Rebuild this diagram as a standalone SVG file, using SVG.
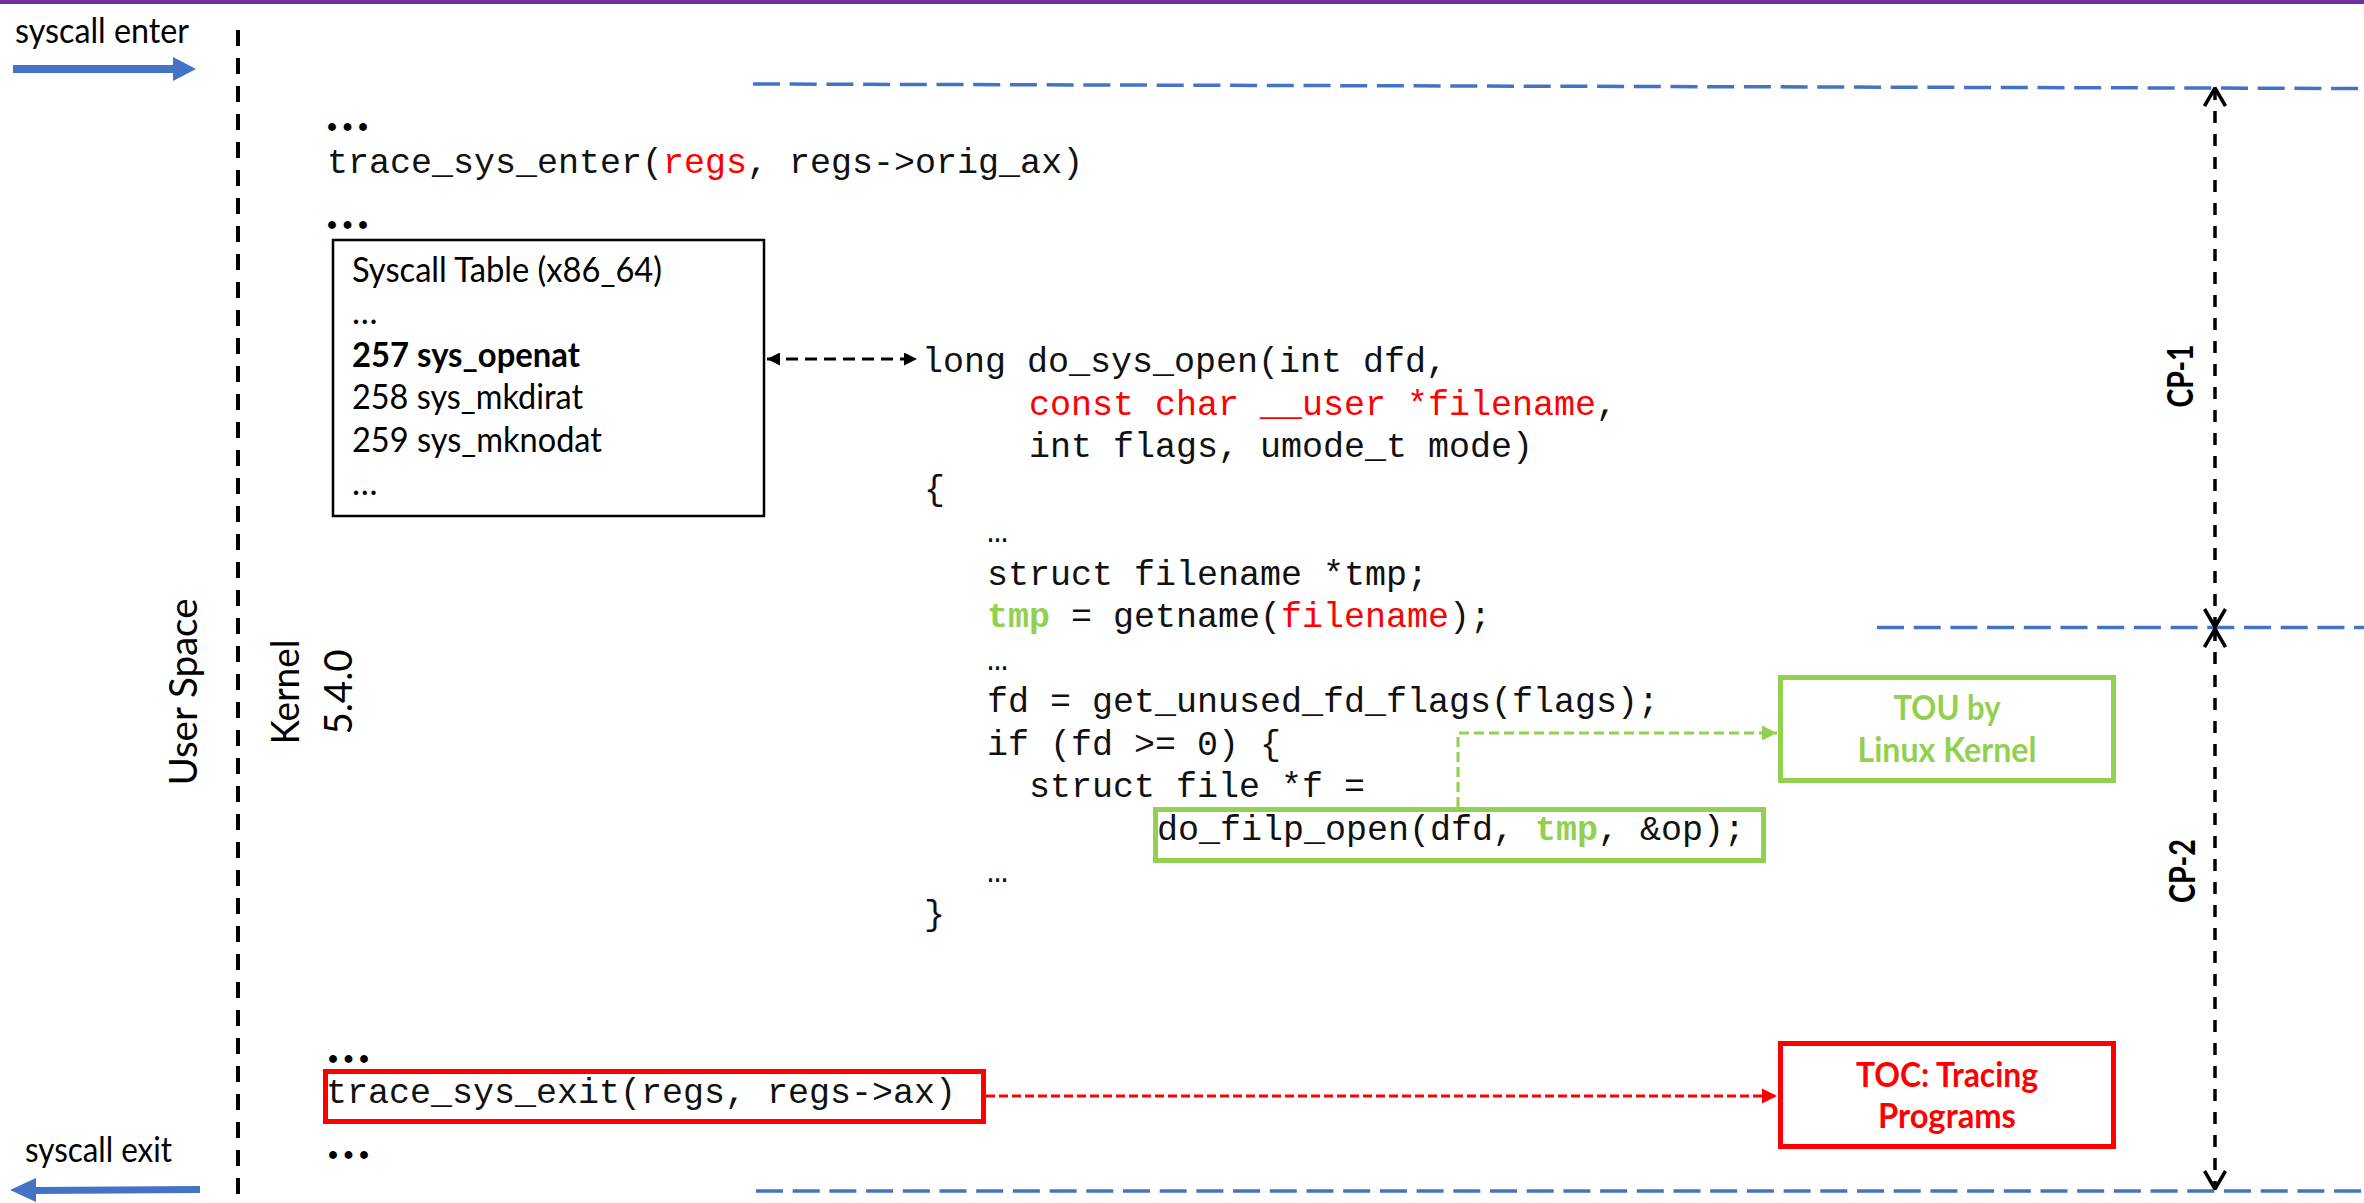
<svg xmlns="http://www.w3.org/2000/svg" width="2364" height="1203" viewBox="0 0 2364 1203">
  <style>
    .sans { font-family: Lato, "Open Sans", "Liberation Sans", sans-serif; fill: #000; }
    .bold { font-weight: bold; }
    .mono { font-family: "Liberation Mono", "Courier New", monospace; font-size: 35px; fill: #111; }
    .red { fill: #FF0000; }
    .grn { fill: #92D050; font-weight: bold; }
    .dots { font-family: "Liberation Serif", serif; font-weight: bold; font-size: 48px; letter-spacing: 3.5px; fill: #000; }
    .boundary { stroke: #4472C4; stroke-width: 3.5; stroke-dasharray: 27 9.7; fill: none; }
    .divider { stroke: #000; stroke-width: 4; stroke-dasharray: 16 12; fill: none; }
    .span { stroke: #000; stroke-width: 3.5; stroke-dasharray: 12 11; fill: none; }
  </style>
  <defs>
    <marker id="tri-black" viewBox="0 0 10 10" refX="10" refY="5" markerWidth="13" markerHeight="13" markerUnits="userSpaceOnUse" orient="auto-start-reverse">
      <path d="M0,0 L10,5 L0,10 z" fill="#000"/>
    </marker>
    <marker id="tri-green" viewBox="0 0 10 10" refX="10" refY="5" markerWidth="15" markerHeight="16" markerUnits="userSpaceOnUse" orient="auto">
      <path d="M0,0 L10,5 L0,10 z" fill="#92D050"/>
    </marker>
    <marker id="tri-red" viewBox="0 0 10 10" refX="10" refY="5" markerWidth="15" markerHeight="16" markerUnits="userSpaceOnUse" orient="auto">
      <path d="M0,0 L10,5 L0,10 z" fill="#FF0000"/>
    </marker>
    <marker id="vee" viewBox="0 0 20 24" refX="19" refY="12" markerWidth="20" markerHeight="24" markerUnits="userSpaceOnUse" orient="auto-start-reverse">
      <path d="M1,1.5 L19,12 L1,22.5" fill="none" stroke="#000" stroke-width="3.5"/>
    </marker>
  </defs>

  <rect width="2364" height="1203" fill="#fff"/>
  <!-- title bar accent -->
  <rect x="0" y="0" width="2364" height="4" fill="#7030A0"/>

  <!-- user / kernel boundary -->
  <g id="boundary">
    <line class="divider" x1="238" y1="30" x2="238" y2="1203"/>
    <text class="sans" font-size="39" text-anchor="middle" textLength="187" lengthAdjust="spacingAndGlyphs" transform="translate(197,692) rotate(-90)">User Space</text>
    <text class="sans" font-size="38" text-anchor="middle" textLength="105" lengthAdjust="spacingAndGlyphs" transform="translate(299,692) rotate(-90)">Kernel</text>
    <text class="sans" font-size="38" text-anchor="middle" textLength="85" lengthAdjust="spacingAndGlyphs" transform="translate(352,692) rotate(-90)">5.4.0</text>
  </g>

  <!-- syscall enter / exit -->
  <g id="syscall-enter">
    <text class="sans" x="15" y="43" font-size="34" textLength="174" lengthAdjust="spacingAndGlyphs">syscall enter</text>
    <polygon points="13,65 173,65 173,57 196,69 173,81 173,73 13,73" fill="#4472C4"/>
  </g>
  <g id="syscall-exit">
    <text class="sans" x="25" y="1162" font-size="34" textLength="147" lengthAdjust="spacingAndGlyphs">syscall exit</text>
    <polygon points="200,1186 36,1187 36,1178 10,1190 36,1202 36,1194 200,1193" fill="#4472C4"/>
  </g>

  <!-- checkpoint boundaries -->
  <g id="checkpoints">
    <line class="boundary" x1="753" y1="84" x2="2364" y2="88.5"/>
    <line class="boundary" x1="1877" y1="627.5" x2="2364" y2="627.5"/>
    <line class="boundary" x1="756" y1="1191" x2="2364" y2="1191"/>
  </g>

  <!-- syscall entry code -->
  <g id="entry-code">
    <text class="dots" x="326" y="131">...</text>
    <text class="mono" x="327" y="173">trace_sys_enter(<tspan class="red">regs</tspan>, regs-&gt;orig_ax)</text>
    <text class="dots" x="326" y="229">...</text>
  </g>

  <!-- syscall table -->
  <g id="syscall-table">
    <rect x="333" y="240" width="431" height="276" fill="#fff" stroke="#000" stroke-width="2.5"/>
    <text class="sans" x="352" y="282" font-size="34" textLength="310" lengthAdjust="spacingAndGlyphs">Syscall Table (x86_64)</text>
    <text class="sans" x="352" y="324" font-size="34">…</text>
    <text class="sans bold" x="352" y="367" font-size="34" textLength="228" lengthAdjust="spacingAndGlyphs">257 sys_openat</text>
    <text class="sans" x="352" y="409" font-size="34" textLength="231" lengthAdjust="spacingAndGlyphs">258 sys_mkdirat</text>
    <text class="sans" x="352" y="452" font-size="34" textLength="250" lengthAdjust="spacingAndGlyphs">259 sys_mknodat</text>
    <text class="sans" x="352" y="495" font-size="34">…</text>
  </g>

  <!-- do_sys_open body -->
  <g id="do-sys-open">
    <text class="mono" x="922" y="372">long do_sys_open(int dfd,</text>
    <text class="mono" x="1029" y="415"><tspan class="red">const char __user *filename</tspan>,</text>
    <text class="mono" x="1029" y="457">int flags, umode_t mode)</text>
    <text class="mono" x="924" y="500">{</text>
    <text class="mono" x="987" y="542">…</text>
    <text class="mono" x="987" y="585">struct filename *tmp;</text>
    <text class="mono" x="987" y="627"><tspan class="grn">tmp</tspan> = getname(<tspan class="red">filename</tspan>);</text>
    <text class="mono" x="987" y="670">…</text>
    <text class="mono" x="987" y="712">fd = get_unused_fd_flags(flags);</text>
    <text class="mono" x="987" y="755">if (fd &gt;= 0) {</text>
    <text class="mono" x="1029" y="797">struct file *f =</text>
    <text class="mono" x="987" y="882">…</text>
    <text class="mono" x="924" y="925">}</text>
  </g>

  <g id="filp-open">
    <rect x="1155.5" y="809.5" width="608" height="51" fill="none" stroke="#92D050" stroke-width="5"/>
    <text class="mono" x="1157" y="840">do_filp_open(dfd, <tspan class="grn">tmp</tspan>, &amp;op);</text>
  </g>

  <g id="trace-exit">
    <text class="dots" x="327" y="1063">...</text>
    <rect x="325.5" y="1071.5" width="658" height="50" fill="none" stroke="#FF0000" stroke-width="5"/>
    <text class="mono" x="326" y="1103">trace_sys_exit(regs, regs-&gt;ax)</text>
    <text class="dots" x="327" y="1159">...</text>
  </g>

  <g id="tou">
    <rect x="1780.5" y="677.5" width="333" height="103" fill="#fff" stroke="#92D050" stroke-width="5"/>
    <text class="sans bold" x="1947" y="720" font-size="35" style="fill:#92D050" text-anchor="middle" textLength="107" lengthAdjust="spacingAndGlyphs">TOU by</text>
    <text class="sans bold" x="1947" y="762" font-size="35" style="fill:#92D050" text-anchor="middle" textLength="179" lengthAdjust="spacingAndGlyphs">Linux Kernel</text>
  </g>

  <g id="toc">
    <rect x="1780.5" y="1043.5" width="333" height="103" fill="#fff" stroke="#FF0000" stroke-width="5"/>
    <text class="sans bold" x="1947" y="1087" font-size="35" style="fill:#FF0000" text-anchor="middle" textLength="182" lengthAdjust="spacingAndGlyphs">TOC: Tracing</text>
    <text class="sans bold" x="1947" y="1128" font-size="35" style="fill:#FF0000" text-anchor="middle" textLength="138" lengthAdjust="spacingAndGlyphs">Programs</text>
  </g>

  <g id="cp-labels">
    <text class="sans bold" font-size="36" text-anchor="middle" textLength="63" lengthAdjust="spacingAndGlyphs" transform="translate(2193,376) rotate(-90)">CP-1</text>
    <text class="sans bold" font-size="36" text-anchor="middle" textLength="64" lengthAdjust="spacingAndGlyphs" transform="translate(2195,871) rotate(-90)">CP-2</text>
  </g>

  <!-- connectors -->
  <g id="connectors">
    <line x1="767" y1="359" x2="917" y2="359" stroke="#000" stroke-width="3" stroke-dasharray="12 7" marker-start="url(#tri-black)" marker-end="url(#tri-black)"/>
    <polyline points="1458,807 1458,733 1777,733" fill="none" stroke="#92D050" stroke-width="3" stroke-dasharray="10 5" marker-end="url(#tri-green)"/>
    <line x1="986" y1="1096" x2="1777" y2="1096" stroke="#FF0000" stroke-width="3" stroke-dasharray="9 4" marker-end="url(#tri-red)"/>
    <line class="span" x1="2215" y1="88" x2="2215" y2="627" marker-start="url(#vee)" marker-end="url(#vee)"/>
    <line class="span" x1="2215" y1="629" x2="2215" y2="1189" marker-start="url(#vee)" marker-end="url(#vee)"/>
  </g>
</svg>
